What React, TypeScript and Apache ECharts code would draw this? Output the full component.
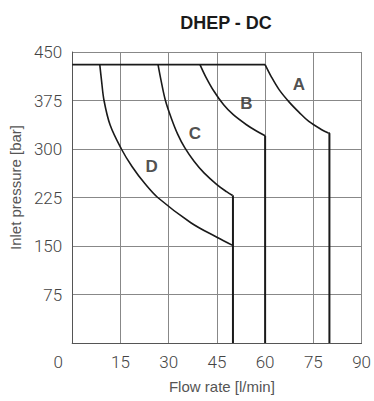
import React, { useEffect, useRef } from "react";
import * as echarts from "echarts";

const titleText = "DHEP - DC";
const xName = "Flow rate [l/min]";
const yName = "Inlet pressure [bar]";

const topLine: [number, number][] = [[0, 430.5], [60, 430.5]];
const curveA: [number, number][] = [
  [60, 430.5], [61.9, 412], [64.4, 391.4], [67.5, 372.5], [70.5, 357], [73.6, 342.6], [77.6, 329.8], [79.7, 324.7],
];
const curveB: [number, number][] = [
  [39.75, 430.5], [41.5, 412], [44, 390], [47.1, 368.3], [50.1, 353], [54.2, 337.5], [57.3, 327.8], [60, 320.5],
];
const curveC: [number, number][] = [
  [26.7, 430.5], [27.6, 407], [29.0, 375], [30.8, 348], [32.8, 323], [35.0, 302], [37.9, 281], [41, 263], [45, 245], [48, 234], [49.9, 228],
];
const curveD: [number, number][] = [
  [8.58, 430.5], [9.1, 407], [9.9, 375], [11.8, 337], [15.3, 300], [18.6, 273], [22.6, 246.5], [26.6, 225], [36.9, 186], [45, 163.5], [49.9, 151],
];
const dropA: [number, number][] = [[79.7, 324.7], [80, 324], [80, 0]];
const dropB: [number, number][] = [[60, 320.5], [60, 0]];
const dropCD: [number, number][] = [[49.9, 228], [50, 227], [50, 0]];

const labelNames = ["A", "B", "C", "D"];
const labelX = [70.5, 54.2, 38.2, 24.7];
const labelY = [399, 370.9, 324.7, 272.3];

export default function App() {
  const ref = useRef<HTMLDivElement>(null);
  useEffect(() => {
    if (!ref.current) return;
    const chart = echarts.init(ref.current, undefined, { renderer: "svg" });
    const curveStyle = { color: "#1a1a1a", width: 1.6 };
    const lineSeries = (data: [number, number][], smooth: boolean) => ({
      type: "line",
      data,
      smooth: smooth ? 0.35 : false,
      symbol: "none",
      lineStyle: curveStyle,
      silent: true,
      z: 3,
    });
    const tickFont = { fontFamily: "Roboto", fontWeight: 300, fontSize: 17, color: "#444" };
    chart.setOption({
      animation: false,
      title: {
        text: titleText,
        left: 221,
        textAlign: "center",
        top: 9,
        textStyle: { fontFamily: "Liberation Sans, Arial", fontWeight: "bold", fontSize: 18, color: "#1a1a1a" },
      },
      grid: { left: 71, right: 9, top: 52, bottom: 58 },
      xAxis: {
        type: "value",
        min: 0,
        max: 90,
        interval: 15,
        name: xName,
        nameLocation: "middle",
        nameGap: 36,
        nameTextStyle: { fontFamily: "Liberation Sans, Arial", fontSize: 15, color: "#555", padding: [0, 0, 0, 10] },
        axisLine: { lineStyle: { color: "#555", width: 1 } },
        axisTick: { show: false },
        splitLine: { lineStyle: { color: "#888", width: 1 } },
        axisLabel: {
          margin: 10,
          ...tickFont,
          formatter: (v: number) => (v === 0 ? "{z|0}" : String(v)),
          rich: { z: { padding: [0, 28, 0, 0], ...tickFont } },
        },
      },
      yAxis: {
        type: "value",
        min: 0,
        max: 450,
        interval: 75,
        name: yName,
        nameLocation: "middle",
        nameGap: 47,
        nameTextStyle: { fontFamily: "Liberation Sans, Arial", fontSize: 15, color: "#555", padding: [0, 0, 0, 20] },
        axisLine: { show: true, lineStyle: { color: "#555", width: 1 } },
        axisTick: { show: false },
        splitLine: { lineStyle: { color: "#888", width: 1 } },
        axisLabel: {
          margin: 10,
          showMinLabel: false,
          ...tickFont,
        },
      },
      series: [
        lineSeries(topLine, false),
        lineSeries(curveA, true),
        lineSeries(curveB, true),
        lineSeries(curveC, true),
        lineSeries(curveD, true),
        { ...lineSeries(dropA, false), lineStyle: { color: "#1a1a1a", width: 2 } },
        { ...lineSeries(dropB, false), lineStyle: { color: "#1a1a1a", width: 2 } },
        { ...lineSeries(dropCD, false), lineStyle: { color: "#1a1a1a", width: 2 } },
        {
          type: "scatter",
          symbolSize: 0,
          silent: true,
          data: labelNames.map((n, i) => ({ value: [labelX[i], labelY[i]], name: n })),
          label: {
            show: true,
            position: "inside",
            formatter: (p: any) => p.name,
            fontFamily: "Liberation Sans, Arial",
            fontWeight: "bold",
            fontSize: 17,
            color: "#222",
          },
        },
      ],
    });
    return () => chart.dispose();
  }, []);
  return <div ref={ref} style={{ width: 374, height: 401, position: "absolute", left: 0, top: 0 }} />;
}
